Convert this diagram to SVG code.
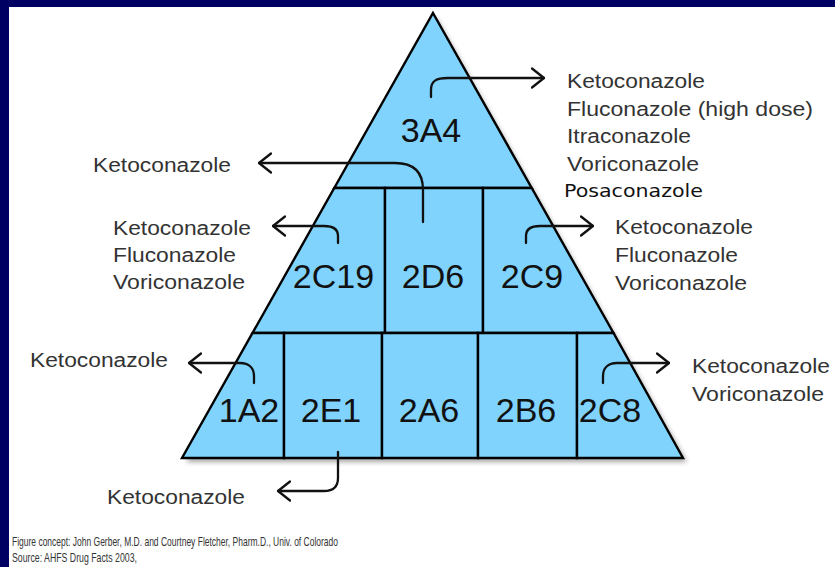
<svg xmlns="http://www.w3.org/2000/svg" width="835" height="567" viewBox="0 0 835 567">
<defs>
<style>
.cell{fill:#7fd3fc;stroke:#000;stroke-width:2.4;stroke-linejoin:miter}
.big{font-family:"Liberation Sans",Arial,sans-serif;font-size:34px;fill:#111;text-anchor:middle}
.lbl{font-family:"Liberation Sans",Arial,sans-serif;font-size:20px;fill:#333}
.pos{font-family:"DejaVu Sans",Verdana,sans-serif;font-size:17px;fill:#111}
.foot{font-family:"Liberation Sans",Arial,sans-serif;font-size:13.5px;fill:#333}
.con{fill:none;stroke:#111;stroke-width:2.3;stroke-linecap:round}
</style>
<marker id="arr" viewBox="0 0 14 22" refX="13" refY="11" markerWidth="14" markerHeight="22" markerUnits="userSpaceOnUse" orient="auto">
<path d="M1,1.5 L13,11 L1,20.5" fill="none" stroke="#111" stroke-width="2.3" stroke-linecap="round" stroke-linejoin="round"/>
</marker>
<filter id="sh" x="-10%" y="-10%" width="120%" height="120%">
<feGaussianBlur stdDeviation="2.5"/>
</filter>
</defs>
<rect x="0" y="0" width="835" height="567" fill="#000062"/>
<rect x="9" y="7" width="826" height="560" fill="#ffffff"/>
<polygon points="436,17 687,462 186,462" fill="#000" opacity="0.35" filter="url(#sh)"/>
<g id="n3A4"><polygon class="cell" points="433,13 531.7,188 334.3,188"/><text class="big" x="431" y="142">3A4</text></g>
<g id="n2C19"><polygon class="cell" points="334.3,188 385,188 385,333 252.5,333"/><text class="big" x="333.5" y="288">2C19</text></g>
<g id="n2D6"><polygon class="cell" points="385,188 483,188 483,333 385,333"/><text class="big" x="433" y="288">2D6</text></g>
<g id="n2C9"><polygon class="cell" points="483,188 531.7,188 613.5,333 483,333"/><text class="big" x="532" y="288">2C9</text></g>
<g id="n1A2"><polygon class="cell" points="252.5,333 284,333 284,458 182,458"/><text class="big" x="249" y="422">1A2</text></g>
<g id="n2E1"><polygon class="cell" points="284,333 382,333 382,458 284,458"/><text class="big" x="331" y="422">2E1</text></g>
<g id="n2A6"><polygon class="cell" points="382,333 478,333 478,458 382,458"/><text class="big" x="429" y="422">2A6</text></g>
<g id="n2B6"><polygon class="cell" points="478,333 577,333 577,458 478,458"/><text class="big" x="526" y="422">2B6</text></g>
<g id="n2C8"><polygon class="cell" points="577,333 613.5,333 683,458 577,458"/><text class="big" x="610" y="422">2C8</text></g>
<g id="connectors">
<path class="con" marker-end="url(#arr)" d="M431,97 L431,90 C431,81 436,78 448,78 L544,78"/>
<path class="con" marker-end="url(#arr)" d="M423,222 L423,190 C423,172 413,163 395,163 L259,163"/>
<path class="con" marker-end="url(#arr)" d="M338,243 L338,236 C338,229 332,226 324,226 L273,226"/>
<path class="con" marker-end="url(#arr)" d="M526,243 L526,236 C526,229 532,226 540,226 L593,226"/>
<path class="con" marker-end="url(#arr)" d="M254,383 L254,376 C254,368 249,363 240,363 L189,363"/>
<path class="con" marker-end="url(#arr)" d="M603,383 L603,376 C603,368 608,363 617,363 L669,363"/>
<path class="con" marker-end="url(#arr)" d="M338,452 L338,478 C338,487 333,491 324,491 L278,491"/>
</g>
<g id="labels">
<text class="lbl" x="567" y="88" textLength="138" lengthAdjust="spacingAndGlyphs">Ketoconazole</text>
<text class="lbl" x="567" y="116" textLength="246" lengthAdjust="spacingAndGlyphs">Fluconazole (high dose)</text>
<text class="lbl" x="567" y="143" textLength="124" lengthAdjust="spacingAndGlyphs">Itraconazole</text>
<text class="lbl" x="567" y="171" textLength="132" lengthAdjust="spacingAndGlyphs">Voriconazole</text>
<text class="pos" x="564" y="197" textLength="139" lengthAdjust="spacingAndGlyphs">Posaconazole</text>
<text class="lbl" x="93" y="172" textLength="138" lengthAdjust="spacingAndGlyphs">Ketoconazole</text>
<text class="lbl" x="113" y="235" textLength="138" lengthAdjust="spacingAndGlyphs">Ketoconazole</text>
<text class="lbl" x="113" y="262" textLength="123" lengthAdjust="spacingAndGlyphs">Fluconazole</text>
<text class="lbl" x="113" y="289" textLength="132" lengthAdjust="spacingAndGlyphs">Voriconazole</text>
<text class="lbl" x="615" y="234" textLength="138" lengthAdjust="spacingAndGlyphs">Ketoconazole</text>
<text class="lbl" x="615" y="262" textLength="123" lengthAdjust="spacingAndGlyphs">Fluconazole</text>
<text class="lbl" x="615" y="290" textLength="132" lengthAdjust="spacingAndGlyphs">Voriconazole</text>
<text class="lbl" x="30" y="367" textLength="138" lengthAdjust="spacingAndGlyphs">Ketoconazole</text>
<text class="lbl" x="692" y="373" textLength="138" lengthAdjust="spacingAndGlyphs">Ketoconazole</text>
<text class="lbl" x="692" y="401" textLength="132" lengthAdjust="spacingAndGlyphs">Voriconazole</text>
<text class="lbl" x="107" y="504" textLength="138" lengthAdjust="spacingAndGlyphs">Ketoconazole</text>
<text class="foot" x="12" y="546" textLength="326" lengthAdjust="spacingAndGlyphs">Figure concept: John Gerber, M.D. and Courtney Fletcher, Pharm.D., Univ. of Colorado</text>
<text class="foot" x="12" y="562" textLength="125" lengthAdjust="spacingAndGlyphs">Source: AHFS Drug Facts 2003,</text>
</g>
</svg>
